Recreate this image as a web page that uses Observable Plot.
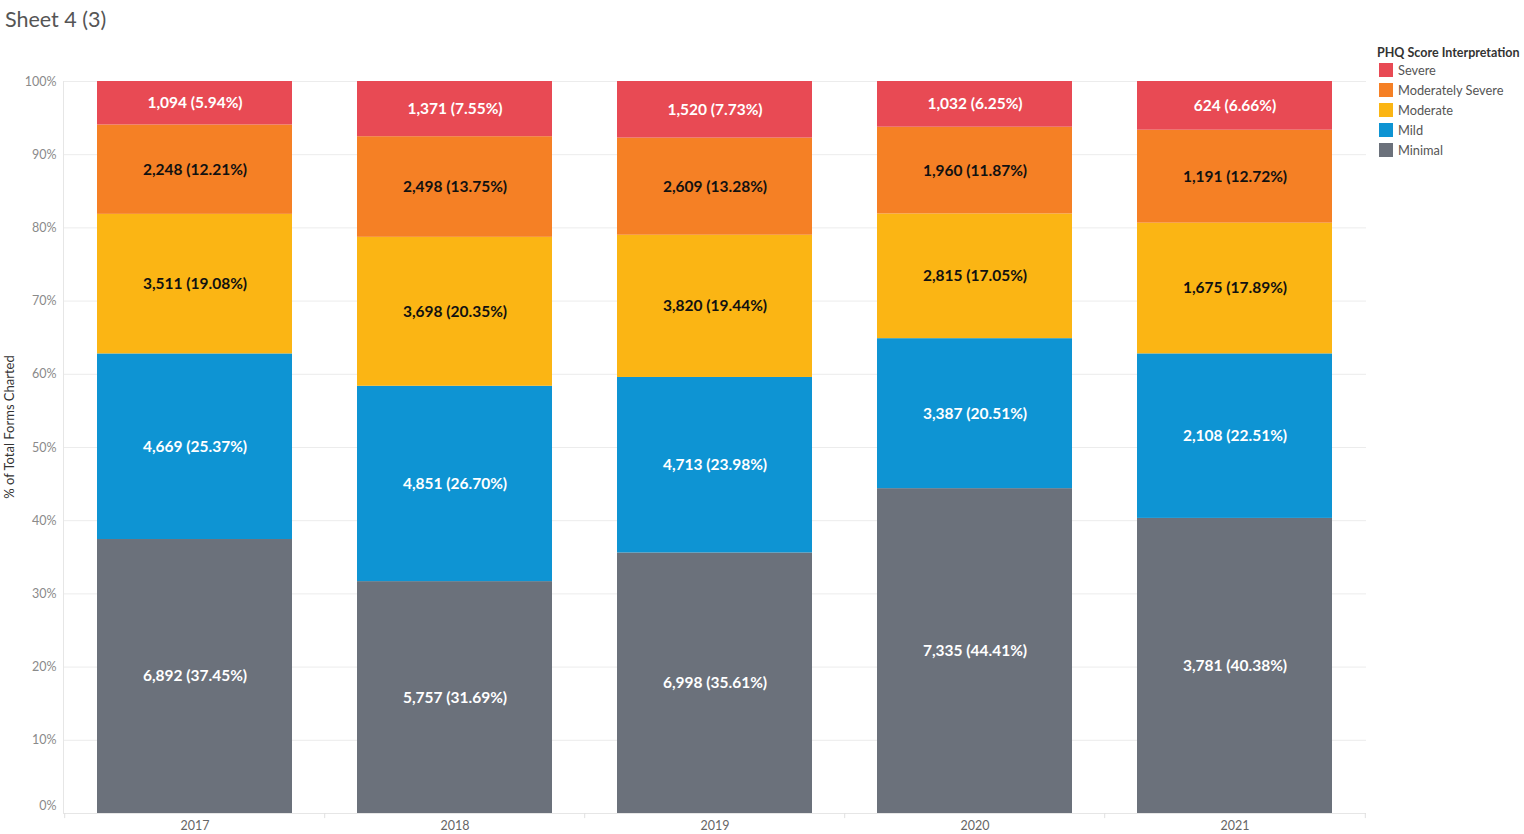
<!DOCTYPE html>
<html>
<head>
<meta charset="utf-8">
<script src="https://cdn.jsdelivr.net/npm/d3@7"></script>
<script src="https://cdn.jsdelivr.net/npm/@observablehq/plot@0.6"></script>
<style>
  html, body { margin: 0; padding: 0; background: #fff; }
  #wrap { position: relative; width: 1524px; height: 834px; font-family: Lato, "Open Sans", sans-serif; }
  #title { position: absolute; left: 5px; top: 6px; font-size: 21.5px; color: #555; font-weight: 400; }
  #chart { position: absolute; left: 0; top: 44px; }
  #ylabel { position: absolute; left: 9px; top: 427px; transform: translate(-50%, -50%) rotate(-90deg); white-space: nowrap; font-size: 13px; color: #333; }
  #legend { position: absolute; left: 1377px; top: 45px; font-size: 12.8px; color: #555; }
  #legend .lt { font-weight: bold; color: #333; margin-bottom: 0px; font-size: 12.5px; }
  #legend .it { display: flex; align-items: center; height: 20px; margin-left: 2px; }
  #legend .sw { width: 14px; height: 14px; margin-right: 5px; }
</style>
</head>
<body>
<div id="wrap">
  <div id="title">Sheet 4 (3)</div>
  <div id="chart"></div>
  <div id="ylabel">% of Total Forms Charted</div>
  <div id="legend"></div>
</div>
<script>
const years = ["2017", "2018", "2019", "2020", "2021"];
const categories = ["Minimal", "Mild", "Moderate", "Moderately Severe", "Severe"];
const colors = ["#6b717b", "#0e94d3", "#fbb514", "#f58025", "#e84a54"];
const legendOrder = ["Severe", "Moderately Severe", "Moderate", "Mild", "Minimal"];

const minimalCounts = [6892, 5757, 6998, 7335, 3781];
const mildCounts = [4669, 4851, 4713, 3387, 2108];
const moderateCounts = [3511, 3698, 3820, 2815, 1675];
const modSevereCounts = [2248, 2498, 2609, 1960, 1191];
const severeCounts = [1094, 1371, 1520, 1032, 624];

const minimalPct = [37.45, 31.69, 35.61, 44.41, 40.38];
const mildPct = [25.37, 26.70, 23.98, 20.51, 22.51];
const moderatePct = [19.08, 20.35, 19.44, 17.05, 17.89];
const modSeverePct = [12.21, 13.75, 13.28, 11.87, 12.72];
const severePct = [5.94, 7.55, 7.73, 6.25, 6.66];

const yTicks = [0, 0.1, 0.2, 0.3, 0.4, 0.5, 0.6, 0.7, 0.8, 0.9, 1.0];

const countsByCat = [minimalCounts, mildCounts, moderateCounts, modSevereCounts, severeCounts];
const pctByCat = [minimalPct, mildPct, moderatePct, modSeverePct, severePct];

const rows = [];
years.forEach((year, i) => {
  categories.forEach((cat, j) => {
    rows.push({year, cat, count: countsByCat[j][i], pct: pctByCat[j][i]});
  });
});

const darkText = new Set(["Moderate", "Moderately Severe"]);
const fmt = d3.format(",");
const label = d => `${fmt(d.count)} (${d.pct.toFixed(2)}%)`;

const W = 1524, H = 790;
const mL = 63, mR = 158, mT = 37, mB = 21;
const halfStep = (W - mL - mR) / years.length / 2;

const stackOpts = {x: "year", y: "count", z: "cat", order: categories, offset: "normalize"};
const pctFmt = d => Math.round(d * 100) + "%";

const chart = Plot.plot({
  width: W,
  height: H,
  marginLeft: mL,
  marginRight: mR,
  marginTop: mT,
  marginBottom: mB,
  style: {fontFamily: "Lato, 'Open Sans', sans-serif", background: "#fff"},
  x: {domain: years, paddingInner: 0.25, paddingOuter: 0.125, label: null},
  y: {domain: [0, 1], label: null},
  color: {domain: categories, range: colors},
  marks: [
    Plot.gridY(yTicks, {stroke: "#ececec", strokeOpacity: 1}),
    Plot.frame({anchor: "left", stroke: "#e6e6e6"}),
    Plot.ruleY([0], {stroke: "#e6e6e6"}),
    Plot.ruleX(years, {x: d => d, dx: -halfStep, y1: 0, y2: -0.007, stroke: "#e0e0e0"}),
    Plot.ruleX([years[years.length - 1]], {x: d => d, dx: halfStep, y1: 0, y2: -0.007, stroke: "#e0e0e0"}),
    Plot.barY(rows, Plot.stackY({...stackOpts, fill: "cat"})),
    Plot.text(rows, Plot.stackY({
      ...stackOpts,
      text: d => darkText.has(d.cat) ? "" : label(d),
      fill: "white", fontWeight: "bold", fontSize: 15.5
    })),
    Plot.text(rows, Plot.stackY({
      ...stackOpts,
      text: d => darkText.has(d.cat) ? label(d) : "",
      fill: "#111", fontWeight: "bold", fontSize: 15.5
    })),
    Plot.axisY(yTicks.slice(1), {
      tickSize: 0, tickPadding: 7, fontSize: 12.5, color: "#8a8a8a",
      tickFormat: pctFmt, label: null
    }),
    Plot.axisY(yTicks.slice(0, 1), {
      tickSize: 0, tickPadding: 7, fontSize: 12.5, color: "#8a8a8a",
      tickFormat: pctFmt, label: null, dy: -8
    }),
    Plot.axisX({tickSize: 0, tickPadding: 8, fontSize: 12.5, color: "#666", label: null})
  ]
});

document.getElementById("chart").appendChild(chart);

const legend = document.getElementById("legend");
legend.innerHTML = `<div class="lt">PHQ Score Interpretation</div>` +
  legendOrder.map(c => `<div class="it"><div class="sw" style="background:${colors[categories.indexOf(c)]}"></div>${c}</div>`).join("");
</script>
</body>
</html>
